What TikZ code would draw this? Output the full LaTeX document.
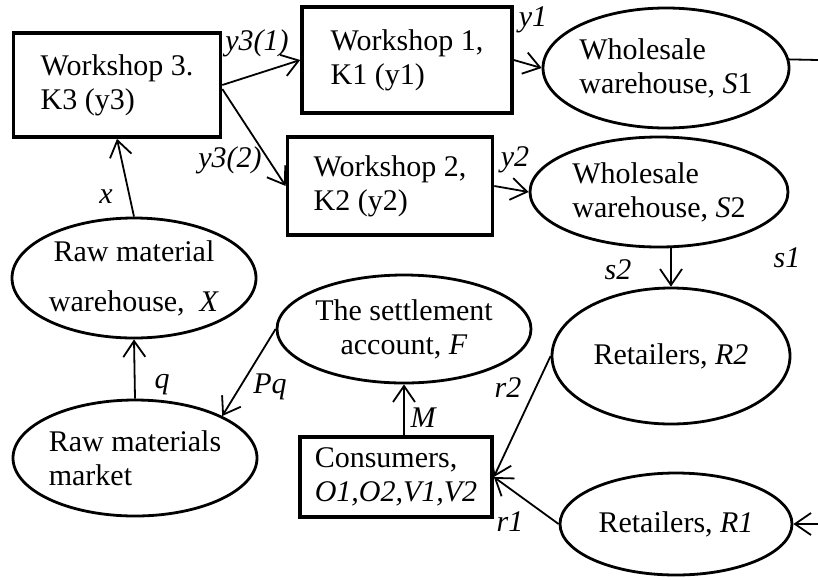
\documentclass[tikz,border=0pt]{standalone}
\usepackage{fontspec}
\setmainfont{Liberation Serif}
\usetikzlibrary{arrows.meta,positioning,shapes.geometric}
\tikzset{
box/.style={draw,line width=1.8pt,align=left,inner sep=0pt,font=\fontsize{15}{17}\selectfont},
oval/.style={draw,ellipse,line width=1.4pt,inner sep=0pt,font=\fontsize{15}{17}\selectfont},
arrow/.style={-{Straight Barb[length=8pt,width=11pt]},line width=.9pt},
line/.style={line width=.9pt},
lbl/.style={font=\fontsize{15}{17}\selectfont\itshape,inner sep=0pt}
}
\begin{document}
\begin{tikzpicture}[x=.5pt,y=-.5pt]
\useasboundingbox (0,0) rectangle (818,579);
\node[box,minimum width=103.5pt,minimum height=52pt] (w3) at (117,85) {Workshop 3.\\K3 (y3)};
\node[box,minimum width=105pt,minimum height=53pt] (w1) at (407,60) {Workshop 1,\\K1 (y1)};
\node[box,minimum width=102.5pt,minimum height=49pt] (w2) at (390,186) {Workshop 2,\\K2 (y2)};
\node[oval,minimum width=123pt,minimum height=60pt,align=left] (s1) at (666,68) {Wholesale\\warehouse, \textit{S}1};
\node[oval,minimum width=129pt,minimum height=55pt,align=left] (s2) at (659,192) {Wholesale\\warehouse, \textit{S}2};
\node[oval,minimum width=122pt,minimum height=60pt,align=center] (rmw) at (134,278) {Raw material\\[8pt]warehouse,\ \ \textit{X}};
\node[oval,minimum width=122pt,minimum height=58pt,align=left] (mkt) at (135,458) {Raw materials\\market};
\node[oval,minimum width=127pt,minimum height=54pt,align=center] (acc) at (404,329) {The settlement\\account, \textit{F}};
\node[box,minimum width=96pt,minimum height=40pt] (cons) at (396,477) {Consumers,\\\textit{O1,O2,V1,V2}};
\node[oval,minimum width=119pt,minimum height=68pt] (r2) at (671,356) {Retailers, \textit{R2}};
\node[oval,minimum width=116pt,minimum height=51pt] (r1) at (676,524) {Retailers, \textit{R1}};
\coordinate (s1out) at (818,60);
\coordinate (r1in) at (818,524);
\draw[arrow](rmw.north)--(w3.south);
\draw[arrow](w3.east)--(w1.west);
\draw[arrow]([yshift=-2pt]w3.east)--(w2.west);
\draw[arrow](w1.east)--(s1.west);
\draw[arrow](w2.east)--(s2.west);
\draw[arrow](r2.north |- s2.south)--(r2.north);
\draw[arrow](mkt.north)--(rmw.south);
\draw[arrow](acc.west)--(mkt.north east);
\draw[arrow](acc.south |- cons.north)--(acc.south);
\draw[arrow](r2.west)--(cons.east);
\draw[arrow](r1.west)--(cons.east);
\draw[line](s1.4)--(s1out);
\draw[arrow](r1in)--(r1.east);
\node[lbl] (lx) at (106,197) {x};
\node[lbl] (ly31) at (257,43) {y3(1)};
\node[lbl] (ly32) at (230,160) {y3(2)};
\node[lbl] (ly1) at (533,20) {y1};
\node[lbl] (ly2) at (515,160) {y2};
\node[lbl] (ls2) at (618,270) {s2};
\node[lbl] (ls1) at (787,258) {s1};
\node[lbl] (lq) at (162,385) {q};
\node[lbl] (lpq) at (270,387) {Pq};
\node[lbl] (lm) at (423,418) {M};
\node[lbl] (lr2) at (508,388) {r2};
\node[lbl] (lr1) at (510,522) {r1};
\end{tikzpicture}
\end{document}
